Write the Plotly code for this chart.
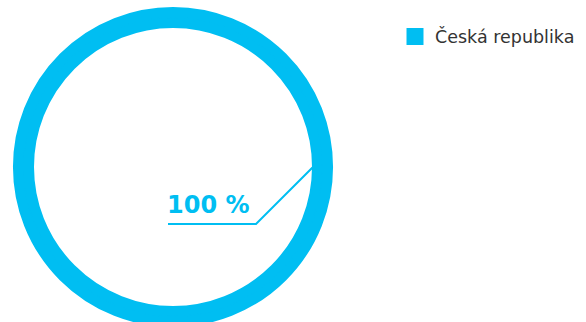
import plotly.graph_objects as go

# ---- data ----
labels = ["Česká republika"]
values = [100]
colors = ["#00BEF2"]

W, H = 586, 322
FONT = "DejaVu Sans"

# ---- geometry (pixels) ----
ring_line = 10          # stroke width added around the donut
R_pie = 155             # pie radius from domain
cx, cy = 173, H - R_pie
hole_frac = 144 / R_pie

def px(x):
    return x / W

def py(y):
    return 1 - y / H

fig = go.Figure()
fig.add_trace(go.Pie(
    labels=labels,
    values=values,
    hole=hole_frac,
    sort=False,
    textinfo="none",
    hoverinfo="label+percent",
    marker=dict(colors=colors, line=dict(color=colors[0], width=ring_line)),
    domain=dict(x=[px(cx - R_pie), px(cx + R_pie)], y=[0, py(cy - R_pie)]),
    showlegend=True,
))

# leader line from inner ring edge (angle 0) to label underline
r_in_vis = R_pie * hole_frac - ring_line / 2
p_end = (cx + r_in_vis + 1, cy)
p_knee = (cx + 83, cy + 57)
p_start = (cx - 5, cy + 57)
path = "M {} {} L {} {} L {} {}".format(
    px(p_start[0]), py(p_start[1]),
    px(p_knee[0]), py(p_knee[1]),
    px(p_end[0]), py(p_end[1]),
)
fig.add_shape(type="path", xref="paper", yref="paper", path=path,
              line=dict(color=colors[0], width=2))

total = sum(values)
fig.add_annotation(
    x=px(p_start[0] - 3), y=py(p_start[1] - 3), xref="paper", yref="paper",
    xanchor="left", yanchor="bottom", showarrow=False,
    text="<b>{} %</b>".format(round(values[0] / total * 100)),
    font=dict(family=FONT, size=24, color=colors[0]),
)

fig.update_layout(
    width=W, height=H,
    margin=dict(l=0, r=0, t=0, b=0),
    paper_bgcolor="white",
    plot_bgcolor="white",
    legend=dict(
        x=px(395), y=py(18.5), xanchor="left", yanchor="top",
        font=dict(family=FONT, size=17.5, color="#333333"),
        bgcolor="rgba(0,0,0,0)",
    ),
)

fig.write_html("out.html")
